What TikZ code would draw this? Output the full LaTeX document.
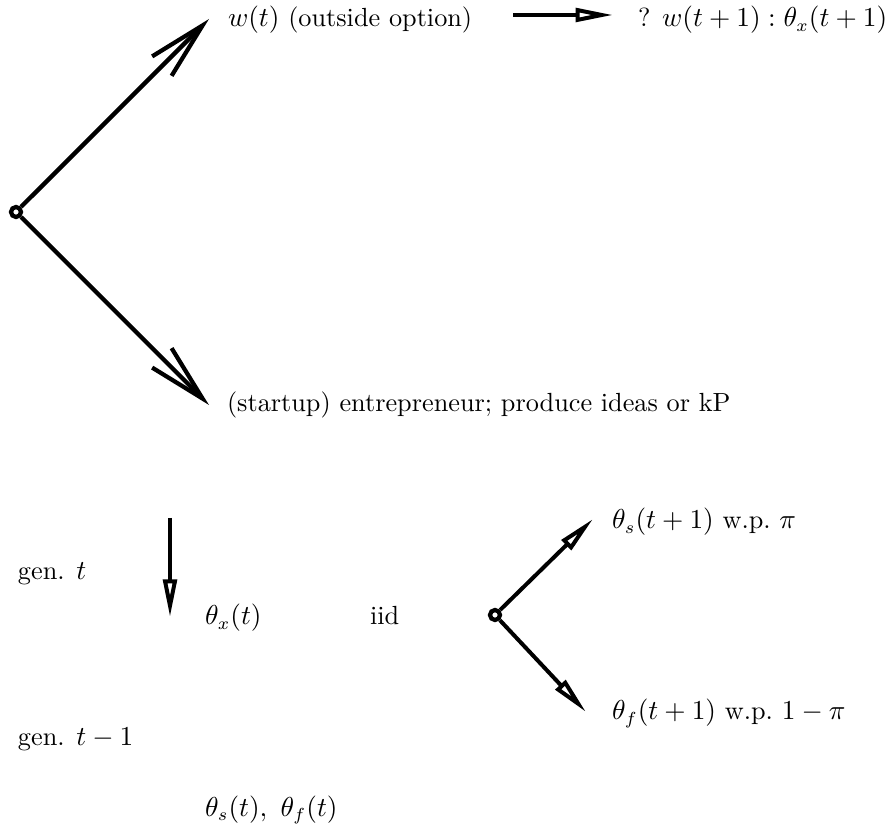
\documentclass[tikz,border=0pt]{standalone}
\usetikzlibrary{arrows.meta}
\begin{document}
\begin{tikzpicture}[x=0.4pt,y=-0.4pt,
  lbl/.style={anchor=base west,inner sep=0pt,outer sep=0pt,font=\fontsize{10.5}{12}\selectfont},
  bigarrow/.style={line width=1.7pt,-{Straight Barb[length=23pt,width=11pt,line width=1.7pt]}},
  smallarrow/.style={line width=1.6pt,-{Triangle[open,length=15pt,width=5.4pt,line width=1.6pt]}},
  dot/.style={circle,draw,line width=1.7pt,minimum size=4pt,inner sep=0pt}]
\useasboundingbox (0,0) rectangle (887,831);
% top tree
\node[dot] (o1) at (16,212) {};
\coordinate (t1) at (209,19);
\coordinate (t2) at (209,405);
\draw[bigarrow] (o1) -- (t1);
\draw[bigarrow] (o1) -- (t2);
\node[lbl] (w) at (228,27) {$w(t)$ (outside option)};
\coordinate (ra) at (513,15);
\coordinate (rb) at (613,15);
\draw[smallarrow] (ra) -- (rb);
\node[lbl] (q) at (638,27) {? $w(t+1):\theta_x(t+1)$};
\node[lbl] (st) at (227,412) {(startup) entrepreneur; produce ideas or kP};
% bottom
\node[lbl] (gt) at (18,580) {gen. $t$};
\coordinate (da) at (170,518);
\coordinate (db) at (170,617);
\draw[smallarrow] (da) -- (db);
\node[lbl] (tx) at (205,625) {$\theta_x(t)$};
\node[lbl] (iid) at (370,625) {iid};
\node[dot] (o2) at (495,615) {};
\coordinate (s1) at (593,519);
\coordinate (s2) at (586,712);
\draw[smallarrow] (o2) -- (s1);
\draw[smallarrow] (o2) -- (s2);
\node[lbl] (ts) at (612,529) {$\theta_s(t+1)$ w.p.\ $\pi$};
\node[lbl] (tf) at (612,720) {$\theta_f(t+1)$ w.p.\ $1-\pi$};
\node[lbl] (gt1) at (18,746) {gen. $t-1$};
\node[lbl] (tsf) at (205,816) {$\theta_s(t),\ \theta_f(t)$};
\end{tikzpicture}
\end{document}
